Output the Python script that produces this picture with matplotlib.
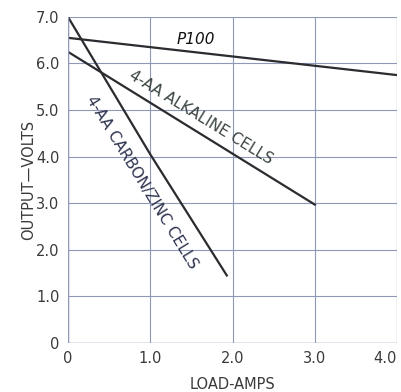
import matplotlib.pyplot as plt

plt.rcParams['font.family'] = ['Liberation Sans Narrow', 'DejaVu Sans']

# Datos
p100_x = [0, 4.0]
p100_y = [6.55, 5.75]
alcalina_x = [0, 3.0]
alcalina_y = [6.25, 2.97]
carbon_x = [0, 1.0, 1.93]
carbon_y = [7.0, 4.05, 1.45]

xticks = [0, 1, 2, 3, 4]
xlabels = ["0", "1.0", "2.0", "3.0", "4.0"]
yticks = [0, 1, 2, 3, 4, 5, 6, 7]
ylabels = ["0", "1.0", "2.0", "3.0", "4.0", "5.0", "6.0", "7.0"]

color_linea = "#2b2b30"
color_grid = "#9098b8"
color_texto = "#3a3a3a"

fig = plt.figure(figsize=(4.02, 3.92), dpi=100)
ax = fig.add_axes([0.169, 0.125, 0.819, 0.832])

ax.plot(p100_x, p100_y, color=color_linea, lw=1.6)
ax.plot(alcalina_x, alcalina_y, color=color_linea, lw=1.6)
ax.plot(carbon_x, carbon_y, color=color_linea, lw=1.6)

ax.set_xlim(0, 4.0)
ax.set_ylim(0, 7.0)
ax.set_xticks(xticks)
ax.set_xticklabels(xlabels)
ax.set_yticks(yticks)
ax.set_yticklabels(ylabels)
ax.tick_params(length=0, labelsize=10.5, colors=color_texto, pad=6)
ax.get_xticklabels()[-1].set_ha('right')
ax.get_xticklabels()[-1].set_x(4.04)
ax.grid(True, color=color_grid, lw=0.8)
for s in ax.spines.values():
    s.set_visible(False)
ax.axhline(0, color=color_grid, lw=1)
ax.axvline(0, color=color_grid, lw=1)
ax.axvline(4.0, color=color_grid, lw=0.8)

ax.set_xlabel("LOAD-AMPS", fontsize=10.5, color=color_texto, labelpad=8)
ax.set_ylabel("OUTPUT\u2014VOLTS", fontsize=10.5, color=color_texto, labelpad=0)

ax.text(1.55, 6.52, "P100", fontsize=11, style='italic', color="#111111",
        ha='center', va='center')
ax.text(1.62, 4.85, "4-AA ALKALINE CELLS", fontsize=11, color="#3a4540",
        rotation=-31.5, rotation_mode='anchor', ha='center', va='center')
ax.text(0.9, 3.45, "4-AA CARBON/ZINC CELLS", fontsize=11, color="#303550",
        rotation=-58.5, rotation_mode='anchor', ha='center', va='center')

fig.savefig("out.png", dpi=100)
